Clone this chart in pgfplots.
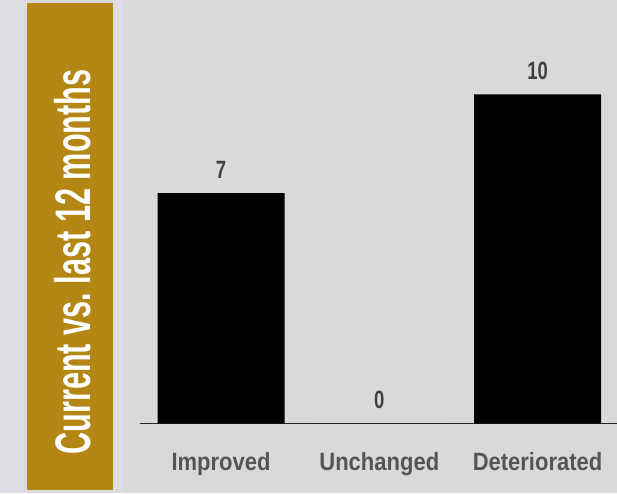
\documentclass[border=0pt]{standalone}
\usepackage{pgfplots}
\pgfplotsset{compat=1.18}
\usepackage{graphicx}
\usepackage{fontspec}
\setmainfont{Liberation Sans}
% narrow faces for category names and bar values
\newfontfamily\condfont[FakeStretch=0.88]{Liberation Sans}
\newfontfamily\numfont[FakeStretch=0.74]{Liberation Sans}
\definecolor{panel}{HTML}{D9D9D9}
\definecolor{edge}{HTML}{DDDCE2}
\definecolor{gold}{RGB}{180,135,20}
\definecolor{labelgray}{HTML}{555555}
\definecolor{valuegray}{HTML}{404040}

\begin{document}
\begin{tikzpicture}[x=1pt,y=1pt]
% background and side band
\fill[panel] (0,0) rectangle (617,493);
\fill[edge] (0,0) rectangle (27,493);
\fill[edge] (113,0) rectangle (123,493);
\fill[gold] (27,3) rectangle (113,490);
\node[rotate=90, inner sep=0pt, text=white] at (73,231)
  {\resizebox{385pt}{\height}{\fontsize{50pt}{50pt}\selectfont\bfseries Current vs.\ last 12 months}};

\begin{axis}[
  at={(140pt,69.5pt)}, anchor=south west,
  scale only axis, width=477pt, height=394.8pt,
  xmin=-0.512, xmax=2.502, ymin=0, ymax=12,
  axis x line*=bottom, axis y line=none,
  x axis line style={line width=1.2pt, draw=black!85},
  ybar, bar width=127pt, bar shift=0pt,
  xtick=data, xticklabels={Improved,Unchanged,Deteriorated},
  major tick length=0pt,
  xticklabel style={anchor=base, yshift=-46.5pt,
    font={\condfont\bfseries\fontsize{25pt}{25pt}\selectfont}, text=labelgray},
  /pgf/number format/assume math mode=true,
  nodes near coords,
  every node near coord/.append style={anchor=base, yshift=15pt,
    font={\numfont\bfseries\fontsize{25pt}{25pt}\selectfont}, text=valuegray},
  clip=false,
]
\addplot[fill=black, draw=none] coordinates {(0,7) (1,0) (2,10)};
\end{axis}
\pgfresetboundingbox
\useasboundingbox (0,0) rectangle (617,493);
\end{tikzpicture}
\end{document}
